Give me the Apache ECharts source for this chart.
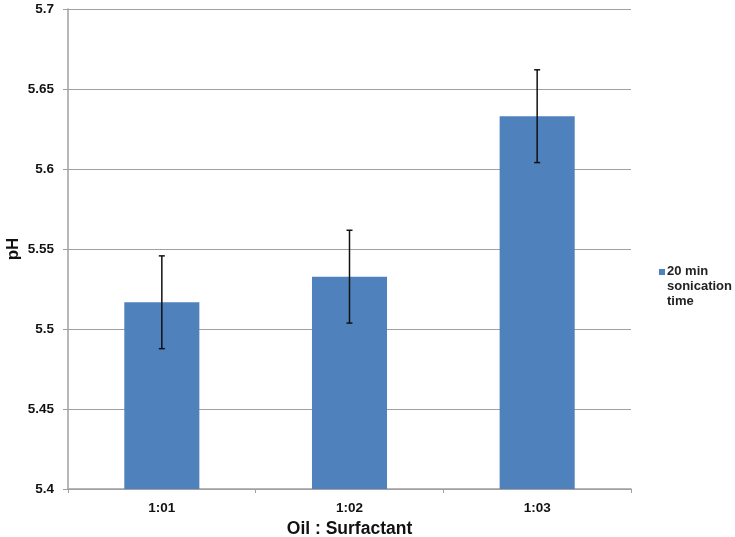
<!DOCTYPE html>
<html>
<head>
<meta charset="utf-8">
<script src="https://cdn.jsdelivr.net/npm/echarts@6/dist/echarts.min.js"></script>
<style>
  html, body { margin: 0; padding: 0; background: #fff; }
  #main { width: 735px; height: 537px; }
</style>
</head>
<body>
<div id="main"></div>
<script>
// data
var categories = ['1:01', '1:02', '1:03']
var phValues = [5.5167, 5.5327, 5.6330]
var phErrors = [0.0290, 0.0290, 0.0290]
var seriesName = '20 min sonication time'
var legendLines = ['20 min', 'sonication', 'time']

var myChart = echarts.init(document.getElementById('main'))

var errData = phValues.map(function (v, i) {
    return [i, v - phErrors[i], v + phErrors[i]]
})

var font = 'Liberation Sans, Arial, sans-serif'

var option = {
    animation: false,
    backgroundColor: '#fff',
    grid: { left: 68, right: 104, top: 9, bottom: 48, containLabel: false, outerBoundsMode: 'none' },
    // legend drawn as square + text lines, first line level with the square
    graphic: [
        { type: 'rect', left: 659, top: 269, shape: { width: 6, height: 6 }, style: { fill: '#4f81bd' } },
        {
            type: 'text', left: 667, top: 264,
            style: {
                text: legendLines.join('\n'),
                font: 'bold 13px Liberation Sans, Arial, sans-serif',
                lineHeight: 15,
                fill: '#222'
            }
        }
    ],
    xAxis: {
        type: 'category',
        data: categories,
        name: 'Oil : Surfactant',
        nameLocation: 'middle',
        nameGap: 31,
        nameTextStyle: { fontFamily: font, fontWeight: 'bold', fontSize: 17.5, color: '#111' },
        axisLine: { lineStyle: { color: '#a0a0a0', width: 1.5 } },
        axisTick: { show: true, length: 4, lineStyle: { color: '#a0a0a0' } },
        axisLabel: { fontFamily: font, fontWeight: 'bold', fontSize: 13.5, color: '#111', margin: 12 }
    },
    yAxis: {
        type: 'value',
        min: 5.4,
        max: 5.7,
        interval: 0.05,
        name: 'pH',
        nameLocation: 'middle',
        nameGap: 46,
        nameMoveOverlap: false,
        nameRotate: 90,
        nameTextStyle: { fontFamily: font, fontWeight: 'bold', fontSize: 17, color: '#111' },
        axisLine: { show: true, lineStyle: { color: '#a0a0a0', width: 1.5 } },
        axisTick: { show: true, length: 5, lineStyle: { color: '#a0a0a0' } },
        splitLine: { lineStyle: { color: '#a0a0a0', width: 1.2 } },
        axisLabel: {
            fontFamily: font, fontWeight: 'bold', fontSize: 13.5, color: '#111', margin: 14,
            formatter: function (v) { return String(parseFloat(v.toFixed(2))) }
        }
    },
    series: [
        {
            name: seriesName,
            type: 'bar',
            data: phValues,
            barWidth: '40%',
            itemStyle: { color: '#4f81bd' }
        },
        {
            type: 'custom',
            data: errData,
            z: 10,
            renderItem: function (params, api) {
                var x = api.value(0)
                var lo = api.coord([x, api.value(1)])
                var hi = api.coord([x, api.value(2)])
                var hw = 3
                var st = { stroke: '#111', lineWidth: 1.5 }
                return {
                    type: 'group',
                    children: [
                        { type: 'line', shape: { x1: hi[0], y1: hi[1], x2: lo[0], y2: lo[1] }, style: st },
                        { type: 'line', shape: { x1: hi[0] - hw, y1: hi[1], x2: hi[0] + hw, y2: hi[1] }, style: st },
                        { type: 'line', shape: { x1: lo[0] - hw, y1: lo[1], x2: lo[0] + hw, y2: lo[1] }, style: st }
                    ]
                }
            }
        }
    ]
}
myChart.setOption(option)
</script>
</body>
</html>
